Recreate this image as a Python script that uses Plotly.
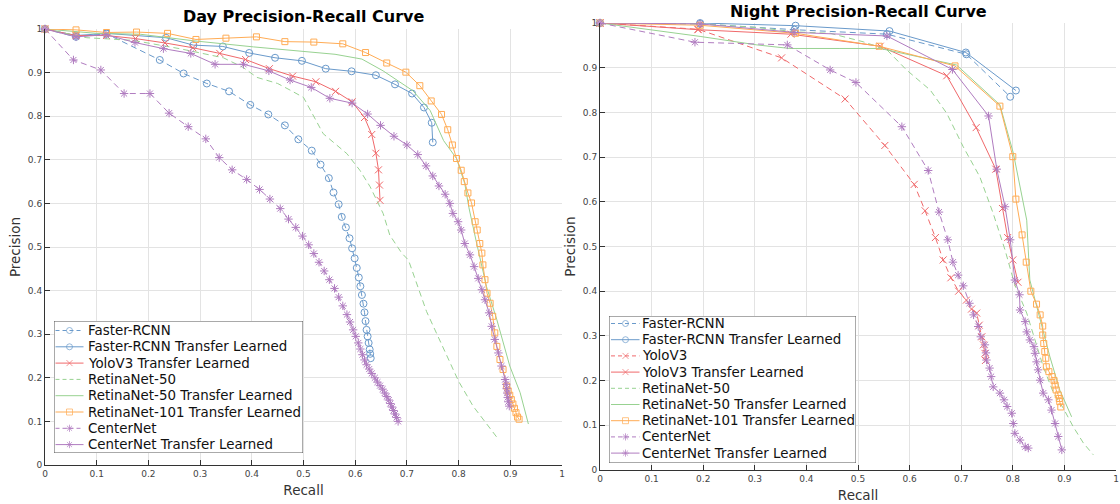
import plotly.graph_objects as go

# ---------------- DAY data (recall, precision) ----------------
day_frcnn_r = [0, 0.06, 0.119, 0.222, 0.268, 0.313, 0.356, 0.397, 0.432, 0.464, 0.49, 0.516, 0.533, 0.549, 0.558, 0.568, 0.574, 0.582, 0.589, 0.594, 0.599, 0.603, 0.607, 0.61, 0.613, 0.616, 0.618, 0.62, 0.622, 0.624, 0.626, 0.628, 0.629, 0.63]
day_frcnn_p = [1, 0.982, 0.989, 0.929, 0.898, 0.875, 0.857, 0.826, 0.804, 0.779, 0.747, 0.721, 0.689, 0.658, 0.625, 0.598, 0.569, 0.545, 0.52, 0.497, 0.474, 0.452, 0.43, 0.41, 0.39, 0.37, 0.35, 0.33, 0.31, 0.295, 0.28, 0.265, 0.255, 0.245]

day_frcnn_tl_r = [0, 0.06, 0.119, 0.234, 0.287, 0.344, 0.395, 0.445, 0.497, 0.543, 0.593, 0.640, 0.677, 0.710, 0.733, 0.748, 0.750]
day_frcnn_tl_p = [1, 0.985, 0.990, 0.980, 0.963, 0.960, 0.945, 0.934, 0.927, 0.909, 0.903, 0.894, 0.873, 0.852, 0.820, 0.785, 0.740]

day_yolo_tl_r = [0, 0.06, 0.119, 0.175, 0.232, 0.286, 0.338, 0.388, 0.434, 0.479, 0.524, 0.562, 0.594, 0.618, 0.632, 0.640, 0.645, 0.647, 0.648]
day_yolo_tl_p = [1, 0.985, 0.985, 0.978, 0.968, 0.957, 0.944, 0.930, 0.909, 0.892, 0.879, 0.857, 0.833, 0.797, 0.758, 0.715, 0.677, 0.642, 0.607]

day_rn50_r = [0, 0.081, 0.170, 0.260, 0.345, 0.383, 0.410, 0.450, 0.477, 0.500, 0.538, 0.584, 0.609, 0.629, 0.654, 0.667, 0.690, 0.703, 0.738, 0.771, 0.800, 0.828, 0.857, 0.877]
day_rn50_p = [1, 0.980, 0.974, 0.955, 0.934, 0.912, 0.889, 0.875, 0.858, 0.843, 0.760, 0.714, 0.676, 0.638, 0.577, 0.527, 0.486, 0.470, 0.352, 0.265, 0.192, 0.135, 0.090, 0.059]

day_rn50_tl_r = [0, 0.100, 0.184, 0.287, 0.403, 0.474, 0.561, 0.613, 0.654, 0.712, 0.745, 0.771, 0.796, 0.812, 0.820, 0.835, 0.854, 0.874, 0.887, 0.899, 0.919, 0.935]
day_rn50_tl_p = [1, 0.990, 0.988, 0.973, 0.959, 0.951, 0.942, 0.931, 0.904, 0.858, 0.813, 0.744, 0.703, 0.645, 0.590, 0.508, 0.409, 0.333, 0.280, 0.227, 0.166, 0.094]

day_rn101_tl_r = [0, 0.06, 0.119, 0.177, 0.237, 0.292, 0.350, 0.409, 0.464, 0.520, 0.576, 0.620, 0.661, 0.698, 0.725, 0.747, 0.767, 0.779, 0.788, 0.796, 0.805, 0.811, 0.818, 0.825, 0.832, 0.836, 0.841, 0.845, 0.847, 0.851, 0.855, 0.861, 0.866, 0.870, 0.874, 0.880, 0.886, 0.893, 0.896, 0.899, 0.902, 0.905, 0.908, 0.911, 0.914, 0.917]
day_rn101_tl_p = [1, 0.998, 0.992, 0.993, 0.990, 0.976, 0.979, 0.982, 0.971, 0.970, 0.966, 0.946, 0.922, 0.901, 0.870, 0.835, 0.804, 0.769, 0.734, 0.703, 0.676, 0.650, 0.624, 0.601, 0.558, 0.539, 0.508, 0.486, 0.459, 0.425, 0.394, 0.371, 0.341, 0.303, 0.272, 0.242, 0.219, 0.181, 0.170, 0.160, 0.150, 0.140, 0.130, 0.120, 0.110, 0.105]

day_cn_r = [0, 0.055, 0.108, 0.153, 0.203, 0.240, 0.277, 0.311, 0.337, 0.362, 0.390, 0.415, 0.435, 0.455, 0.471, 0.485, 0.498, 0.51, 0.52, 0.53, 0.54, 0.55, 0.56, 0.568, 0.576, 0.584, 0.59, 0.596, 0.601, 0.606, 0.61, 0.614, 0.618, 0.622, 0.627, 0.632, 0.638, 0.643, 0.648, 0.653, 0.657, 0.661, 0.665, 0.668, 0.671, 0.674, 0.677, 0.68, 0.683]
day_cn_p = [1, 0.929, 0.906, 0.852, 0.852, 0.807, 0.776, 0.748, 0.705, 0.677, 0.655, 0.632, 0.610, 0.588, 0.564, 0.545, 0.525, 0.505, 0.485, 0.465, 0.445, 0.425, 0.405, 0.385, 0.365, 0.345, 0.328, 0.31, 0.295, 0.28, 0.266, 0.253, 0.241, 0.23, 0.22, 0.21, 0.2, 0.19, 0.182, 0.174, 0.165, 0.157, 0.149, 0.141, 0.133, 0.125, 0.117, 0.109, 0.1]

day_cn_tl_r = [0, 0.06, 0.118, 0.174, 0.229, 0.282, 0.329, 0.384, 0.433, 0.474, 0.515, 0.551, 0.594, 0.624, 0.649, 0.675, 0.700, 0.721, 0.737, 0.750, 0.762, 0.774, 0.783, 0.789, 0.799, 0.805, 0.812, 0.822, 0.830, 0.838, 0.845, 0.851, 0.859, 0.864, 0.870, 0.877, 0.883, 0.890, 0.892, 0.893, 0.894, 0.895, 0.896, 0.898]
day_cn_tl_p = [1, 0.982, 0.987, 0.969, 0.955, 0.944, 0.919, 0.919, 0.904, 0.883, 0.866, 0.841, 0.830, 0.805, 0.779, 0.754, 0.734, 0.712, 0.686, 0.663, 0.640, 0.621, 0.600, 0.577, 0.558, 0.539, 0.508, 0.482, 0.455, 0.428, 0.402, 0.379, 0.349, 0.318, 0.288, 0.257, 0.227, 0.196, 0.185, 0.175, 0.165, 0.155, 0.145, 0.135]

# ---------------- NIGHT data (recall, precision) ----------------
night_frcnn_r = [0, 0.194, 0.377, 0.556, 0.710, 0.795]
night_frcnn_p = [1, 0.998, 0.985, 0.975, 0.930, 0.835]

night_frcnn_tl_r = [0, 0.194, 0.379, 0.561, 0.709, 0.806]
night_frcnn_tl_p = [1, 1.0, 0.994, 0.982, 0.934, 0.849]

night_yolo_r = [0, 0.19, 0.352, 0.475, 0.552, 0.609, 0.630, 0.650, 0.665, 0.680, 0.695, 0.710, 0.720, 0.730, 0.735, 0.740, 0.743, 0.746, 0.747]
night_yolo_p = [1, 0.986, 0.922, 0.830, 0.726, 0.639, 0.580, 0.520, 0.470, 0.430, 0.400, 0.380, 0.360, 0.351, 0.324, 0.298, 0.280, 0.261, 0.245]

night_yolo_tl_r = [0, 0.19, 0.370, 0.543, 0.672, 0.729, 0.767, 0.780, 0.790, 0.800, 0.810]
night_yolo_tl_p = [1, 0.985, 0.975, 0.948, 0.882, 0.766, 0.673, 0.585, 0.520, 0.470, 0.420]

night_rn50_r = [0, 0.194, 0.304, 0.380, 0.446, 0.510, 0.556, 0.594, 0.640, 0.672, 0.704, 0.736, 0.762, 0.785, 0.804, 0.827, 0.843, 0.859, 0.879, 0.898, 0.917, 0.937, 0.956]
night_rn50_p = [1, 0.998, 0.990, 0.980, 0.977, 0.958, 0.940, 0.895, 0.850, 0.798, 0.723, 0.656, 0.574, 0.492, 0.414, 0.351, 0.291, 0.231, 0.172, 0.138, 0.097, 0.060, 0.034]

night_rn50_tl_r = [0, 0.194, 0.304, 0.368, 0.465, 0.543, 0.691, 0.775, 0.801, 0.817, 0.827, 0.833, 0.853, 0.872, 0.891, 0.914]
night_rn50_tl_p = [1, 0.970, 0.951, 0.943, 0.943, 0.943, 0.906, 0.817, 0.709, 0.619, 0.559, 0.425, 0.336, 0.253, 0.179, 0.119]

night_rn101_tl_r = [0, 0.194, 0.379, 0.541, 0.688, 0.775, 0.800, 0.806, 0.818, 0.826, 0.835, 0.846, 0.853, 0.858, 0.858, 0.860, 0.862, 0.864, 0.865, 0.870, 0.876, 0.880, 0.882, 0.884, 0.888, 0.890, 0.891, 0.893]
night_rn101_tl_p = [1, 0.995, 0.977, 0.948, 0.904, 0.814, 0.701, 0.606, 0.526, 0.465, 0.400, 0.371, 0.347, 0.322, 0.302, 0.283, 0.265, 0.250, 0.231, 0.220, 0.209, 0.200, 0.190, 0.179, 0.168, 0.160, 0.153, 0.141]

night_cn_r = [0, 0.184, 0.363, 0.446, 0.496, 0.585, 0.636, 0.657, 0.674, 0.684, 0.694, 0.704, 0.716, 0.724, 0.733, 0.738, 0.746, 0.748, 0.749, 0.755, 0.758, 0.762, 0.775, 0.783, 0.789, 0.798, 0.801, 0.804, 0.814, 0.824, 0.830]
night_cn_p = [1, 0.957, 0.951, 0.895, 0.867, 0.768, 0.670, 0.577, 0.515, 0.465, 0.436, 0.412, 0.373, 0.347, 0.321, 0.298, 0.280, 0.262, 0.246, 0.228, 0.209, 0.186, 0.172, 0.157, 0.142, 0.127, 0.104, 0.082, 0.067, 0.052, 0.049]

night_cn_tl_r = [0, 0.194, 0.376, 0.556, 0.683, 0.753, 0.769, 0.785, 0.795, 0.804, 0.813, 0.814, 0.824, 0.827, 0.833, 0.841, 0.843, 0.846, 0.849, 0.853, 0.859, 0.869, 0.875, 0.882, 0.888, 0.895]
night_cn_tl_p = [1, 0.998, 0.979, 0.971, 0.896, 0.792, 0.673, 0.589, 0.515, 0.425, 0.392, 0.358, 0.332, 0.309, 0.291, 0.276, 0.261, 0.242, 0.224, 0.201, 0.172, 0.157, 0.134, 0.104, 0.075, 0.045]

tick_vals = [0, 0.1, 0.2, 0.3, 0.4, 0.5, 0.6, 0.7, 0.8, 0.9, 1]
tick_text = ["0", "0.1", "0.2", "0.3", "0.4", "0.5", "0.6", "0.7", "0.8", "0.9", "1"]

BLUE = "#6a9acb"
RED = "#f0696b"
GREEN = "#98d291"
ORANGE = "#ffac55"
PURPLE = "#b07cc0"
FONT = "DejaVu Sans"
DASH = "6px,4px"

# series styles: (name, color, dash, symbol)
S_FR = ("Faster-RCNN", BLUE, DASH, "circle-open")
S_FRT = ("Faster-RCNN Transfer Learned", BLUE, "solid", "circle-open")
S_Y = ("YoloV3", RED, DASH, "x-thin-open")
S_YT = ("YoloV3 Transfer Learned", RED, "solid", "x-thin-open")
S_R50 = ("RetinaNet-50", GREEN, DASH, None)
S_R50T = ("RetinaNet-50 Transfer Learned", GREEN, "solid", None)
S_R101T = ("RetinaNet-101 Transfer Learned", ORANGE, "solid", "square-open")
S_C = ("CenterNet", PURPLE, DASH, "asterisk-open")
S_CT = ("CenterNet Transfer Learned", PURPLE, "solid", "asterisk-open")

day_series = [
    (day_frcnn_r, day_frcnn_p, S_FR),
    (day_frcnn_tl_r, day_frcnn_tl_p, S_FRT),
    (day_yolo_tl_r, day_yolo_tl_p, S_YT),
    (day_rn50_r, day_rn50_p, S_R50),
    (day_rn50_tl_r, day_rn50_tl_p, S_R50T),
    (day_rn101_tl_r, day_rn101_tl_p, S_R101T),
    (day_cn_r, day_cn_p, S_C),
    (day_cn_tl_r, day_cn_tl_p, S_CT),
]
night_series = [
    (night_frcnn_r, night_frcnn_p, S_FR),
    (night_frcnn_tl_r, night_frcnn_tl_p, S_FRT),
    (night_yolo_r, night_yolo_p, S_Y),
    (night_yolo_tl_r, night_yolo_tl_p, S_YT),
    (night_rn50_r, night_rn50_p, S_R50),
    (night_rn50_tl_r, night_rn50_tl_p, S_R50T),
    (night_rn101_tl_r, night_rn101_tl_p, S_R101T),
    (night_cn_r, night_cn_p, S_C),
    (night_cn_tl_r, night_cn_tl_p, S_CT),
]

W, H = 1120, 504


def px_x(p):
    return p / W


def px_y(p):
    return 1 - p / H


fig = go.Figure()


def msize(symbol):
    return 6 if symbol == "square-open" else 7


for series, xa, ya in ((day_series, "x", "y"), (night_series, "x2", "y2")):
    for r, p, (name, color, dash, symbol) in series:
        fig.add_trace(go.Scatter(
            x=r, y=p, name=name, mode="lines+markers" if symbol else "lines",
            xaxis=xa, yaxis=ya, showlegend=False, cliponaxis=False,
            line=dict(color=color, width=1, dash=dash),
            marker=dict(symbol=symbol or "circle", size=msize(symbol), color=color,
                        line=dict(color=color, width=1)),
        ))

# ---- hand-built legends (window-pixel overlay axes) ----
legend_boxes = {
    "x3": dict(box=(54, 303, 321, 453), y0=330.5, step=16.3, lx=(55.5, 69.5, 83.5), tx=85.5),
    "x4": dict(box=(609, 856, 316, 463), y0=323.5, step=16.2, lx=(611, 625.5, 639.5), tx=640),
}
annotations = []
shapes = []
for (ax, ay), series in ((("x3", "y3"), day_series), (("x4", "y4"), night_series)):
    spec = legend_boxes[ax]
    L, R, T, B = spec["box"]
    shapes.append(dict(type="rect", xref=ax, yref=ay, x0=L, x1=R, y0=T, y1=B,
                       fillcolor="white", line=dict(color="#555555", width=1), layer="below"))
    for i, (_, _, (name, color, dash, symbol)) in enumerate(series):
        yc = spec["y0"] + i * spec["step"]
        x0, xm, x1 = spec["lx"]
        fig.add_trace(go.Scatter(
            x=[x0, xm, x1], y=[yc, yc, yc], xaxis=ax, yaxis=ay, showlegend=False,
            mode="lines+markers" if symbol else "lines", hoverinfo="skip",
            line=dict(color=color, width=1, dash="4px,3px" if dash != "solid" else "solid"),
            marker=dict(symbol=symbol or "circle", size=[0, 6, 0], color=color,
                        line=dict(color=color, width=1)),
        ))
        annotations.append(dict(text=name, xref=ax, yref=ay, x=spec["tx"], y=yc,
                                xanchor="left", yanchor="middle", showarrow=False,
                                font=dict(family=FONT, size=13.4, color="#111111")))

axis_common = dict(
    range=[0, 1], tickvals=tick_vals, ticktext=tick_text, automargin=False,
    showgrid=True, gridcolor="#e3e3e3", gridwidth=1,
    showline=True, linecolor="#333333", linewidth=1,
    ticks="inside", ticklen=5, tickcolor="#333333",
    tickfont=dict(family=FONT, size=9, color="#444444"),
    zeroline=False, mirror=False,
)
title_font = dict(family=FONT, size=13.5, color="#333333")

annotations += [
    dict(text="<b>Day Precision-Recall Curve</b>", xref="paper", yref="paper",
         x=px_x(303.5), y=px_y(16), xanchor="center", yanchor="middle", showarrow=False,
         font=dict(family=FONT, size=16, color="black")),
    dict(text="<b>Night Precision-Recall Curve</b>", xref="paper", yref="paper",
         x=px_x(858), y=px_y(11), xanchor="center", yanchor="middle", showarrow=False,
         font=dict(family=FONT, size=16, color="black")),
]

fig.update_layout(
    width=W, height=H,
    margin=dict(l=0, r=0, t=0, b=0, autoexpand=False),
    paper_bgcolor="white", plot_bgcolor="white",
    showlegend=False,
    xaxis=dict(domain=[px_x(45), px_x(562)], anchor="y",
               title=dict(text="Recall", font=title_font, standoff=7), **axis_common),
    yaxis=dict(domain=[px_y(465), px_y(29)], anchor="x",
               title=dict(text="Precision", font=title_font, standoff=4), **axis_common),
    xaxis2=dict(domain=[px_x(600), px_x(1116)], anchor="y2",
                title=dict(text="Recall", font=title_font, standoff=7), **axis_common),
    yaxis2=dict(domain=[px_y(470), px_y(23)], anchor="x2",
                title=dict(text="Precision", font=title_font, standoff=4), **axis_common),
    xaxis3=dict(domain=[px_x(54), px_x(303)], range=[54, 303], anchor="y3", visible=False, fixedrange=True),
    yaxis3=dict(domain=[px_y(453), px_y(321)], range=[453, 321], anchor="x3", visible=False, fixedrange=True),
    xaxis4=dict(domain=[px_x(609), px_x(856)], range=[609, 856], anchor="y4", visible=False, fixedrange=True),
    yaxis4=dict(domain=[px_y(463), px_y(316)], range=[463, 316], anchor="x4", visible=False, fixedrange=True),
    shapes=shapes,
    annotations=annotations,
)

# remove the browser's default 8px page margin so the 1120x504 figure fills the window
fig.write_html("out.html", config={"displayModeBar": False},
               post_script="document.body.style.margin='0px';")
